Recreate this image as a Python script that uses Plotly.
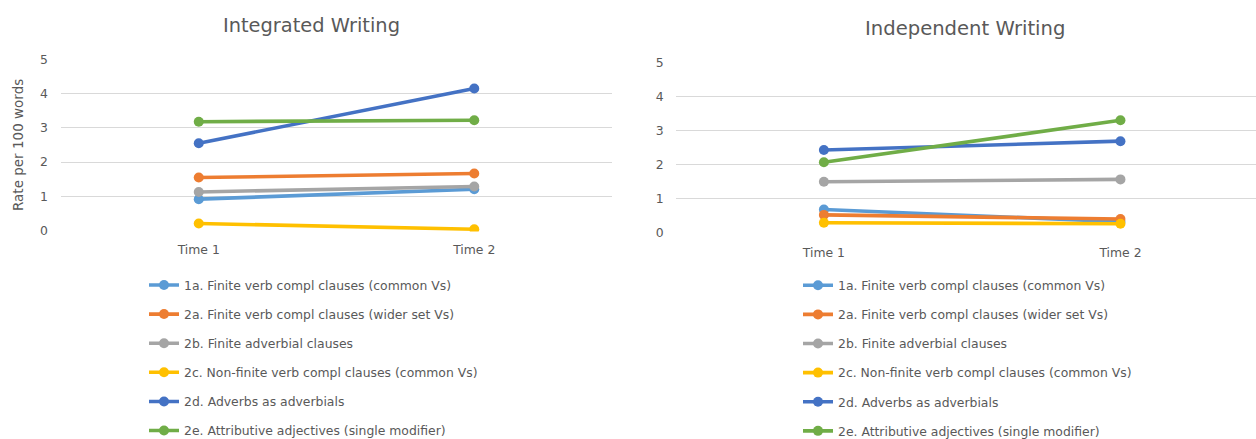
import plotly.graph_objects as go

# Measurement occasions
times = ["Time 1", "Time 2"]

# Feature labels and line colours
features = [
    "1a. Finite verb compl clauses (common Vs)",
    "2a. Finite verb compl clauses (wider set Vs)",
    "2b. Finite adverbial clauses",
    "2c. Non-finite verb compl clauses (common Vs)",
    "2d. Adverbs as adverbials",
    "2e. Attributive adjectives (single modifier)",
]
colors = ["#5B9BD5", "#ED7D31", "#A5A5A5", "#FFC000", "#4472C4", "#70AD47"]

# Rates per 100 words, integrated task
integrated_1a = [0.92, 1.21]
integrated_2a = [1.55, 1.67]
integrated_2b = [1.13, 1.29]
integrated_2c = [0.21, 0.04]
integrated_2d = [2.55, 4.15]
integrated_2e = [3.18, 3.22]

# Rates per 100 words, independent task
independent_1a = [0.69, 0.33]
independent_2a = [0.53, 0.41]
independent_2b = [1.50, 1.57]
independent_2c = [0.30, 0.27]
independent_2d = [2.43, 2.69]
independent_2e = [2.07, 3.30]

y_ticks = [0, 1, 2, 3, 4, 5]

integrated = [integrated_1a, integrated_2a, integrated_2b,
              integrated_2c, integrated_2d, integrated_2e]
independent = [independent_1a, independent_2a, independent_2b,
               independent_2c, independent_2d, independent_2e]

W, H = 1256, 439
FONT = "DejaVu Sans"
GREY = "#595959"
PAD = 0.02  # small y padding so the 0 and 5 gridlines are drawn

fig = go.Figure()

for i, (name, col) in enumerate(zip(features, colors)):
    fig.add_trace(go.Scatter(
        x=times, y=integrated[i], name=name, mode="lines+markers",
        line=dict(color=col, width=3.6), marker=dict(color=col, size=10),
        xaxis="x", yaxis="y", legend="legend", legendgroup=f"a{i}",
    ))
for i, (name, col) in enumerate(zip(features, colors)):
    fig.add_trace(go.Scatter(
        x=times, y=independent[i], name=name, mode="lines+markers",
        line=dict(color=col, width=3.6), marker=dict(color=col, size=10),
        xaxis="x2", yaxis="y2", legend="legend2", legendgroup=f"b{i}",
    ))

def px_x(p):
    return p / W

def px_y(p):
    return 1 - p / H

def y_domain(y0_px, y5_px):
    unit = (y0_px - y5_px) / 5
    return [px_y(y0_px + PAD * unit), px_y(y5_px - PAD * unit)]

axis_common = dict(
    showline=False, zeroline=False, automargin=False, ticks="",
    tickfont=dict(family=FONT, size=12.4, color=GREY),
)
grid = dict(showgrid=True, gridcolor="#D9D9D9", gridwidth=1)

legend_style = dict(
    xanchor="left", yanchor="top",
    font=dict(family=FONT, size=12.4, color=GREY),
    tracegroupgap=10, bgcolor="rgba(0,0,0,0)",
)

fig.update_layout(
    template="none",
    width=W, height=H,
    margin=dict(l=0, r=0, t=0, b=0, autoexpand=False),
    paper_bgcolor="white", plot_bgcolor="white",
    font=dict(family=FONT, color=GREY),
    xaxis=dict(domain=[px_x(61), px_x(612)], type="category",
               range=[-0.5, 1.5], showgrid=False, anchor="y",
               ticklabelstandoff=9, **axis_common),
    yaxis=dict(domain=y_domain(230.7, 59.3), range=[-PAD, 5 + PAD],
               tickvals=y_ticks, ticklabelstandoff=12, anchor="x",
               **grid, **axis_common),
    xaxis2=dict(domain=[px_x(675.6), 1.0], type="category",
                range=[-0.5, 1 + (W - 1120.5) / 296.5], showgrid=False,
                anchor="y2", ticklabelstandoff=10, **axis_common),
    yaxis2=dict(domain=y_domain(233, 62.3), range=[-PAD, 5 + PAD],
                tickvals=y_ticks, ticklabelstandoff=11, anchor="x2",
                **grid, **axis_common),
    legend=dict(x=px_x(144), y=px_y(270.4), **legend_style),
    legend2=dict(x=px_x(798), y=px_y(270.7), **legend_style),
    showlegend=True,
    annotations=[
        dict(text="Integrated Writing", x=px_x(311), y=px_y(25),
             xref="paper", yref="paper", showarrow=False,
             xanchor="center", yanchor="middle",
             font=dict(family=FONT, size=19.4, color=GREY)),
        dict(text="Independent Writing", x=px_x(965), y=px_y(28.5),
             xref="paper", yref="paper", showarrow=False,
             xanchor="center", yanchor="middle",
             font=dict(family=FONT, size=19.6, color=GREY)),
        dict(text="Rate per 100 words", x=px_x(18), y=px_y(145),
             xref="paper", yref="paper", showarrow=False, textangle=-90,
             xanchor="center", yanchor="middle",
             font=dict(family=FONT, size=13.5, color=GREY)),
    ],
)

fig.write_html("out.html")
